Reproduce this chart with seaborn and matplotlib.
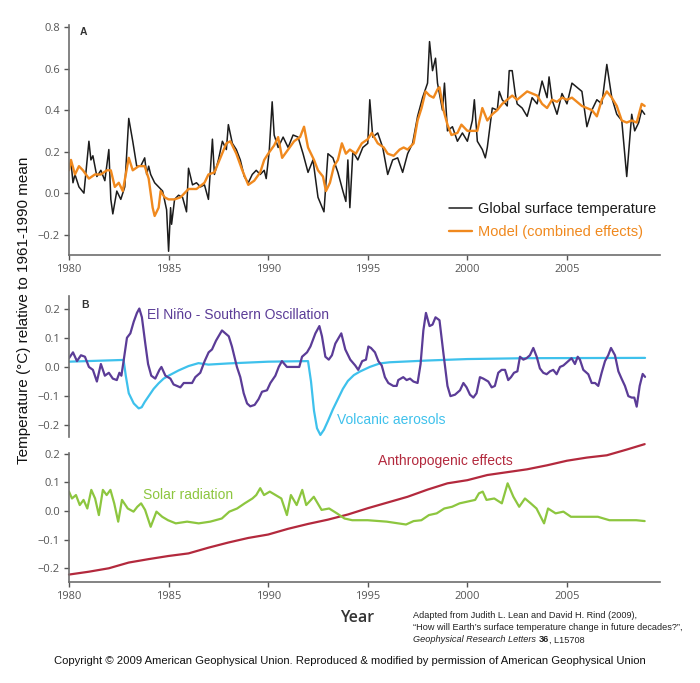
import numpy as np
import pandas as pd
import seaborn as sns
import matplotlib.pyplot as plt
import matplotlib.ticker as mticker

# ---- Panel A: global surface temperature and model ----
obs_years = [1980.0, 1980.1, 1980.2, 1980.3, 1980.5, 1980.75, 1981.0, 1981.1, 1981.2, 1981.4,
             1981.6, 1981.8, 1982.0, 1982.1, 1982.2, 1982.4, 1982.6, 1982.8, 1983.0, 1983.2,
             1983.4, 1983.6, 1983.8, 1983.9, 1984.0, 1984.1, 1984.3, 1984.5, 1984.7, 1984.9,
             1985.0, 1985.1, 1985.15, 1985.3, 1985.5, 1985.7, 1985.9, 1986.0, 1986.2, 1986.4,
             1986.6, 1986.8, 1987.0, 1987.2, 1987.3, 1987.5, 1987.7, 1987.9, 1988.0, 1988.2,
             1988.4, 1988.6, 1988.8, 1989.0, 1989.2, 1989.4, 1989.6, 1989.8, 1989.9, 1990.05,
             1990.2, 1990.3, 1990.5, 1990.75, 1991.0, 1991.25, 1991.5, 1991.75, 1992.0, 1992.25,
             1992.5, 1992.8, 1993.0, 1993.25, 1993.5, 1993.75, 1993.9, 1994.0, 1994.1, 1994.25,
             1994.5, 1994.75, 1995.0, 1995.1, 1995.25, 1995.5, 1995.75, 1996.0, 1996.25, 1996.5,
             1996.75, 1997.0, 1997.25, 1997.5, 1997.75, 1998.0, 1998.1, 1998.25, 1998.4, 1998.5,
             1998.75, 1998.85, 1999.0, 1999.25, 1999.5, 1999.75, 2000.0, 2000.25, 2000.35, 2000.5,
             2000.75, 2000.9, 2001.0, 2001.25, 2001.5, 2001.6, 2001.75, 2002.0, 2002.1, 2002.25,
             2002.4, 2002.5, 2002.75, 2003.0, 2003.25, 2003.5, 2003.75, 2004.0, 2004.1, 2004.25,
             2004.5, 2004.75, 2005.0, 2005.25, 2005.5, 2005.75, 2006.0, 2006.25, 2006.5, 2006.75,
             2007.0, 2007.25, 2007.5, 2007.75, 2008.0, 2008.25, 2008.4, 2008.6, 2008.75, 2008.9]
obs_temp = [0.12, 0.15, 0.05, 0.09, 0.03, 0.00, 0.25, 0.16, 0.18, 0.08,
            0.11, 0.06, 0.21, -0.03, -0.10, 0.01, -0.03, 0.03, 0.36, 0.25,
            0.13, 0.13, 0.17, 0.09, 0.13, 0.09, 0.05, 0.03, 0.01, -0.08,
            -0.28, -0.07, -0.15, -0.03, -0.01, -0.02, -0.09, 0.12, 0.04, 0.05,
            0.03, 0.04, -0.03, 0.26, 0.09, 0.16, 0.25, 0.21, 0.33, 0.24,
            0.21, 0.16, 0.08, 0.05, 0.09, 0.11, 0.09, 0.11, 0.07, 0.20,
            0.44, 0.28, 0.22, 0.27, 0.22, 0.28, 0.27, 0.19, 0.10, 0.16,
            -0.02, -0.09, 0.19, 0.17, 0.10, 0.01, -0.04, 0.16, -0.07, 0.20,
            0.16, 0.22, 0.24, 0.45, 0.27, 0.29, 0.22, 0.09, 0.16, 0.17,
            0.10, 0.19, 0.24, 0.37, 0.46, 0.53, 0.73, 0.59, 0.65, 0.53,
            0.40, 0.53, 0.30, 0.32, 0.25, 0.29, 0.25, 0.35, 0.45, 0.25,
            0.21, 0.17, 0.22, 0.41, 0.40, 0.49, 0.45, 0.42, 0.59, 0.59,
            0.48, 0.43, 0.41, 0.37, 0.46, 0.43, 0.54, 0.46, 0.56, 0.45,
            0.38, 0.48, 0.43, 0.53, 0.51, 0.49, 0.32, 0.40, 0.45, 0.43,
            0.62, 0.46, 0.38, 0.35, 0.08, 0.38, 0.30, 0.34, 0.40, 0.38]

model_years = [1980.0, 1980.1, 1980.3, 1980.5, 1980.7, 1981.0, 1981.3, 1981.6, 1981.9, 1982.1,
               1982.3, 1982.5, 1982.7, 1983.0, 1983.2, 1983.5, 1983.8, 1984.0, 1984.2, 1984.3,
               1984.5, 1984.6, 1984.8, 1985.0, 1985.3, 1985.6, 1986.0, 1986.4, 1986.8, 1987.0,
               1987.3, 1987.6, 1987.9, 1988.1, 1988.4, 1988.7, 1989.0, 1989.3, 1989.6, 1989.8,
               1990.0, 1990.3, 1990.5, 1990.7, 1991.0, 1991.3, 1991.6, 1991.8, 1992.0, 1992.3,
               1992.5, 1992.75, 1992.9, 1993.1, 1993.3, 1993.5, 1993.7, 1993.9, 1994.1, 1994.4,
               1994.7, 1995.0, 1995.2, 1995.5, 1995.8, 1996.0, 1996.3, 1996.6, 1996.8, 1997.0,
               1997.3, 1997.5, 1997.7, 1997.9, 1998.1, 1998.3, 1998.5, 1998.6, 1998.8, 1999.0,
               1999.2, 1999.5, 1999.7, 2000.0, 2000.3, 2000.5, 2000.75, 2001.0, 2001.25, 2001.5,
               2001.75, 2002.0, 2002.25, 2002.5, 2003.0, 2003.25, 2003.5, 2003.75, 2004.0, 2004.25,
               2004.5, 2004.75, 2005.0, 2005.25, 2005.5, 2005.75, 2006.0, 2006.25, 2006.5, 2006.75,
               2007.0, 2007.25, 2007.5, 2007.75, 2008.0, 2008.25, 2008.5, 2008.75, 2008.9]
model_temp = [0.11, 0.16, 0.09, 0.13, 0.11, 0.07, 0.09, 0.09, 0.11, 0.11,
              0.03, 0.05, 0.01, 0.17, 0.11, 0.13, 0.13, 0.07, -0.07, -0.11,
              -0.07, 0.01, -0.02, -0.03, -0.03, -0.02, 0.02, 0.02, 0.05, 0.09,
              0.10, 0.17, 0.24, 0.25, 0.19, 0.11, 0.04, 0.06, 0.10, 0.16,
              0.19, 0.23, 0.27, 0.17, 0.21, 0.25, 0.27, 0.32, 0.22, 0.16,
              0.11, 0.08, 0.01, 0.05, 0.13, 0.16, 0.24, 0.19, 0.21, 0.19,
              0.24, 0.26, 0.29, 0.24, 0.22, 0.19, 0.18, 0.21, 0.22, 0.21,
              0.24, 0.35, 0.41, 0.49, 0.47, 0.46, 0.50, 0.51, 0.40, 0.33,
              0.28, 0.29, 0.33, 0.30, 0.30, 0.30, 0.41, 0.35, 0.38, 0.40,
              0.43, 0.45, 0.47, 0.45, 0.49, 0.48, 0.47, 0.43, 0.41, 0.45,
              0.44, 0.46, 0.45, 0.46, 0.44, 0.42, 0.41, 0.40, 0.37, 0.45,
              0.49, 0.46, 0.42, 0.35, 0.34, 0.35, 0.34, 0.43, 0.42]

# ---- Panel B (upper): ENSO and volcanic aerosols ----
enso_years = [1980.0, 1980.2, 1980.4, 1980.6, 1980.8, 1981.0, 1981.2, 1981.4, 1981.6, 1981.8,
              1982.0, 1982.2, 1982.4, 1982.53, 1982.63, 1982.74, 1982.91, 1983.08, 1983.25, 1983.41,
              1983.53, 1983.66, 1983.83, 1983.97, 1984.13, 1984.33, 1984.54, 1984.64, 1984.84, 1985.09,
              1985.25, 1985.42, 1985.59, 1985.76, 1985.97, 1986.18, 1986.34, 1986.59, 1986.81, 1987.01,
              1987.18, 1987.38, 1987.51, 1987.68, 1987.85, 1988.02, 1988.18, 1988.43, 1988.6, 1988.77,
              1988.94, 1989.1, 1989.32, 1989.52, 1989.69, 1989.94, 1990.11, 1990.36, 1990.53, 1990.69,
              1990.94, 1991.2, 1991.36, 1991.56, 1991.7, 1991.95, 1992.12, 1992.37, 1992.57, 1992.7,
              1992.87, 1993.04, 1993.2, 1993.37, 1993.67, 1993.87, 1994.12, 1994.37, 1994.52, 1994.72,
              1994.91, 1995.03, 1995.16, 1995.36, 1995.53, 1995.7, 1995.86, 1996.03, 1996.28, 1996.45,
              1996.53, 1996.78, 1996.95, 1997.12, 1997.29, 1997.5, 1997.65, 1997.79, 1997.92, 1998.1,
              1998.25, 1998.4, 1998.6, 1998.8, 1999.0, 1999.15, 1999.38, 1999.63, 1999.8, 1999.96,
              2000.13, 2000.3, 2000.46, 2000.63, 2000.8, 2001.05, 2001.22, 2001.38, 2001.55, 2001.72,
              2001.89, 2002.05, 2002.19, 2002.34, 2002.51, 2002.64, 2002.81, 2002.97, 2003.14, 2003.31,
              2003.48, 2003.64, 2003.81, 2003.98, 2004.15, 2004.31, 2004.48, 2004.65, 2004.82, 2005.07,
              2005.23, 2005.4, 2005.54, 2005.65, 2005.82, 2006.07, 2006.24, 2006.41, 2006.57, 2006.74,
              2006.91, 2007.07, 2007.21, 2007.41, 2007.58, 2007.74, 2007.91, 2008.08, 2008.25, 2008.38,
              2008.5, 2008.65, 2008.8, 2008.92]
enso_temp = [0.03, 0.05, 0.02, 0.04, 0.035, 0.0, -0.01, -0.05, 0.01, -0.03,
             -0.02, -0.04, -0.045, -0.02, -0.03, 0.02, 0.10, 0.115, 0.155, 0.185,
             0.20, 0.17, 0.08, 0.01, -0.03, -0.04, -0.01, 0.0, -0.03, -0.04,
             -0.06, -0.065, -0.07, -0.055, -0.055, -0.055, -0.035, -0.02, 0.02, 0.05,
             0.06, 0.09, 0.105, 0.125, 0.115, 0.105, 0.07, 0.0, -0.035, -0.09,
             -0.125, -0.135, -0.13, -0.11, -0.085, -0.08, -0.055, -0.03, 0.0, 0.02,
             0.0, 0.0, 0.0, 0.0, 0.035, 0.05, 0.07, 0.115, 0.14, 0.105,
             0.035, 0.025, 0.04, 0.08, 0.115, 0.06, 0.025, 0.005, -0.01, 0.02,
             0.025, 0.07, 0.065, 0.05, 0.02, 0.005, -0.035, -0.055, -0.065, -0.065,
             -0.045, -0.035, -0.045, -0.04, -0.05, -0.055, 0.01, 0.125, 0.185, 0.14,
             0.145, 0.17, 0.16, 0.045, -0.065, -0.10, -0.095, -0.08, -0.055, -0.07,
             -0.095, -0.105, -0.09, -0.035, -0.04, -0.05, -0.07, -0.065, -0.02, -0.01,
             -0.01, -0.045, -0.035, -0.02, -0.015, 0.035, 0.025, 0.03, 0.04, 0.065,
             0.035, -0.005, -0.02, -0.025, -0.015, -0.01, -0.025, 0.0, 0.005, 0.02,
             0.03, 0.01, 0.035, 0.025, -0.01, -0.025, -0.055, -0.055, -0.065, -0.02,
             0.02, 0.04, 0.065, 0.04, -0.015, -0.04, -0.065, -0.10, -0.105, -0.105,
             -0.136, -0.065, -0.024, -0.034]

volc_years = [1980.0, 1982.74, 1982.85, 1983.0, 1983.25, 1983.5, 1983.65, 1983.8, 1984.0, 1984.25,
              1984.5, 1984.75, 1985.0, 1985.5, 1986.0, 1986.5, 1987.0, 1988.0, 1990.0, 1992.0,
              1992.15, 1992.3, 1992.45, 1992.62, 1992.8, 1993.0, 1993.25, 1993.5, 1993.75, 1994.0,
              1994.3, 1994.6, 1995.1, 1995.6, 1996.1, 1998.0, 2000.0, 2003.0, 2008.92]
volc_temp = [0.018, 0.024, -0.03, -0.09, -0.125, -0.142, -0.138, -0.12, -0.10, -0.075,
             -0.056, -0.04, -0.03, -0.012, 0.003, 0.013, 0.008, 0.012, 0.018, 0.02,
             -0.05, -0.15, -0.21, -0.233, -0.215, -0.185, -0.145, -0.11, -0.075, -0.048,
             -0.028, -0.016, 0.0, 0.012, 0.016, 0.022, 0.027, 0.03, 0.031]

# ---- Panel B (lower): solar radiation and anthropogenic effects ----
solar_years = [1980.0, 1980.15, 1980.35, 1980.54, 1980.73, 1980.92, 1981.12, 1981.31, 1981.5, 1981.7,
               1981.89, 1982.08, 1982.27, 1982.47, 1982.66, 1982.95, 1983.24, 1983.43, 1983.62, 1983.82,
               1984.1, 1984.39, 1984.68, 1984.97, 1985.36, 1985.93, 1986.51, 1987.09, 1987.67, 1988.05,
               1988.44, 1988.82, 1989.21, 1989.4, 1989.6, 1989.79, 1990.08, 1990.37, 1990.66, 1990.94,
               1991.14, 1991.43, 1991.71, 1991.91, 1992.29, 1992.68, 1993.06, 1993.45, 1993.83, 1994.22,
               1994.99, 1995.95, 1996.53, 1996.92, 1997.3, 1997.69, 1998.07, 1998.46, 1998.84, 1999.23,
               1999.61, 2000.0, 2000.39, 2000.58, 2000.77, 2000.96, 2001.35, 2001.73, 2002.02, 2002.31,
               2002.6, 2002.89, 2003.18, 2003.47, 2003.85, 2004.05, 2004.43, 2004.82, 2005.2, 2005.78,
               2006.55, 2007.13, 2007.9, 2008.48, 2008.9]
solar_temp = [0.068, 0.044, 0.056, 0.021, 0.039, 0.009, 0.074, 0.044, -0.014, 0.074,
              0.056, 0.074, 0.027, -0.037, 0.039, 0.009, -0.002, 0.015, 0.027, 0.004,
              -0.055, -0.002, -0.02, -0.032, -0.043, -0.037, -0.043, -0.037, -0.026, -0.002,
              0.009, 0.027, 0.044, 0.056, 0.08, 0.056, 0.068, 0.056, 0.044, -0.014,
              0.056, 0.021, 0.074, 0.021, 0.05, 0.004, 0.009, -0.008, -0.026, -0.032,
              -0.032, -0.037, -0.043, -0.047, -0.035, -0.032, -0.014, -0.008, 0.009, 0.015,
              0.027, 0.033, 0.039, 0.062, 0.068, 0.039, 0.044, 0.027, 0.097, 0.05,
              0.015, 0.044, 0.027, 0.009, -0.043, 0.009, -0.008, -0.002, -0.02, -0.02,
              -0.02, -0.032, -0.032, -0.032, -0.035]

anthro_years = [1980.0, 1981.0, 1982.0, 1983.0, 1984.0, 1985.0, 1986.0, 1987.0, 1988.0, 1989.0,
                1990.0, 1991.0, 1992.0, 1993.0, 1994.0, 1995.0, 1996.0, 1997.0, 1998.0, 1999.0,
                2000.0, 2001.0, 2002.0, 2003.0, 2004.0, 2005.0, 2006.0, 2007.0, 2008.0, 2008.9]
anthro_temp = [-0.222, -0.212, -0.200, -0.180, -0.168, -0.157, -0.148, -0.128, -0.110, -0.094,
               -0.082, -0.062, -0.045, -0.030, -0.012, 0.010, 0.030, 0.050, 0.075, 0.097,
               0.108, 0.126, 0.136, 0.146, 0.160, 0.176, 0.187, 0.195, 0.215, 0.234]

year_ticks = [1980, 1985, 1990, 1995, 2000, 2005]

W, H = 700, 683


def fx(px):
    return px / W


def fy(py):
    return 1 - py / H


def minus_fmt(v, pos):
    return f'{v:.1f}'.replace('-', '\u2212')


sns.set_style('ticks')
plt.rcParams['font.family'] = ['Liberation Sans', 'DejaVu Sans']

fig = plt.figure(figsize=(7, 6.83), dpi=100)
left, width = fx(69), fx(660) - fx(69)
axA = fig.add_axes([left, fy(255), width, (255 - 25) / H])
axB1 = fig.add_axes([left, fy(437), width, (437 - 296) / H])
axB2 = fig.add_axes([left, fy(582), width, (582 - 453) / H])

# panel A
sns.lineplot(x=obs_years, y=obs_temp, ax=axA, color='#1c1c1c', lw=1.1,
             estimator=None, sort=False, label='Global surface temperature')
sns.lineplot(x=model_years, y=model_temp, ax=axA, color='#f0891e', lw=1.7,
             estimator=None, sort=False, label='Model (combined effects)')
axA.set_ylim(-0.298, 0.81)
axA.set_yticks([-0.2, 0.0, 0.2, 0.4, 0.6, 0.8])
axA.legend(loc='upper left', bbox_to_anchor=(fx(449), fy(202)), bbox_transform=fig.transFigure,
           frameon=False, fontsize=10.5, handlelength=1.6, handletextpad=0.4,
           labelspacing=0.62, borderpad=0, borderaxespad=0, labelcolor='linecolor')

# panel B upper
sns.lineplot(x=volc_years, y=volc_temp, ax=axB1, color='#3ec1ec', lw=1.6, estimator=None, sort=False)
sns.lineplot(x=enso_years, y=enso_temp, ax=axB1, color='#5b3c97', lw=1.6, estimator=None, sort=False)
axB1.set_ylim(-0.240, 0.243)
axB1.set_yticks([-0.2, -0.1, 0.0, 0.1, 0.2])

# panel B lower
sns.lineplot(x=anthro_years, y=anthro_temp, ax=axB2, color='#b3293d', lw=1.6, estimator=None, sort=False)
axB2.lines[-1].set_clip_on(False)
sns.lineplot(x=solar_years, y=solar_temp, ax=axB2, color='#8dc63f', lw=1.6, estimator=None, sort=False)
axB2.set_ylim(-0.248, 0.203)
axB2.set_yticks([-0.2, -0.1, 0.0, 0.1, 0.2])

for ax in (axA, axB1, axB2):
    ax.set_xlim(1980, 2009.67)
    ax.set_xticks(year_ticks)
    ax.set_xlabel('')
    ax.set_ylabel('')
    ax.yaxis.set_major_formatter(mticker.FuncFormatter(minus_fmt))
    sns.despine(ax=ax)
    for s in ('left', 'bottom'):
        ax.spines[s].set_color('#6e6e6e')
        ax.spines[s].set_linewidth(1.2)
    ax.tick_params(colors='#555555', length=3.5, width=1, pad=3, direction='out')
    for lab in ax.get_xticklabels() + ax.get_yticklabels():
        lab.set_fontfamily(['Open Sans', 'DejaVu Sans'])
        lab.set_fontsize(8)
        lab.set_color('#555555')
    ax.patch.set_alpha(0)

axB1.spines['bottom'].set_visible(False)
axB1.tick_params(axis='x', bottom=False, labelbottom=False)

# panel letters and series labels
axA.text(fx(80), fy(32), 'A', transform=fig.transFigure, fontsize=7.5, fontweight='bold',
         color='#333333', va='center')
axB1.text(fx(81), fy(305), 'B', transform=fig.transFigure, fontsize=7.5, fontweight='bold',
          color='#333333', va='center')
axB1.text(1983.9, 0.178, 'El Niño - Southern Oscillation', color='#5b3c97', fontsize=10, va='center')
axB1.text(1993.45, -0.181, 'Volcanic aerosols', color='#3ec1ec', fontsize=10, va='center')
axB2.text(1995.5, 0.175, 'Anthropogenic effects', color='#b3293d', fontsize=10, va='center')
axB2.text(1983.7, 0.056, 'Solar radiation', color='#8dc63f', fontsize=10, va='center')

fig.text(fx(24), fy(310), 'Temperature (°C) relative to 1961-1990 mean', rotation=90,
         ha='center', va='center', fontsize=11, color='#111111')
fig.text(fx(357), fy(618), 'Year', ha='center', va='center', fontsize=11.5,
         fontfamily=['Open Sans', 'DejaVu Sans'], color='#333333', fontweight='semibold')

# citation
cite_size = 6.6
fig.text(fx(413), fy(616), 'Adapted from Judith L. Lean and David H. Rind (2009),',
         fontsize=cite_size, va='center', color='#222222')
fig.text(fx(413), fy(628), '\u201cHow will Earth\u2019s surface temperature change in future decades?\u201d,',
         fontsize=cite_size, va='center', color='#222222')
c3 = fig.text(fx(413), fy(640), 'Geophysical Research Letters ', fontsize=cite_size, va='center',
              style='italic', color='#222222')
c4 = fig.text(0, 0, '36', fontsize=cite_size, fontweight='bold', color='#222222', va='bottom')
fig.canvas.draw()
bb = c3.get_window_extent()
c4.set_position((bb.x1 / fig.bbox.width, bb.y0 / fig.bbox.height))
fig.canvas.draw()
bb4 = c4.get_window_extent()
fig.text(bb4.x1 / fig.bbox.width, bb.y0 / fig.bbox.height, ', L15708', fontsize=cite_size,
         va='bottom', color='#222222')

fig.text(0.5, fy(661), 'Copyright \u00a9 2009 American Geophysical Union. Reproduced & modified by '
         'permission of American Geophysical Union', ha='center', va='center', fontsize=8.1,
         color='#111111')

fig.savefig('out.png', dpi=100)
